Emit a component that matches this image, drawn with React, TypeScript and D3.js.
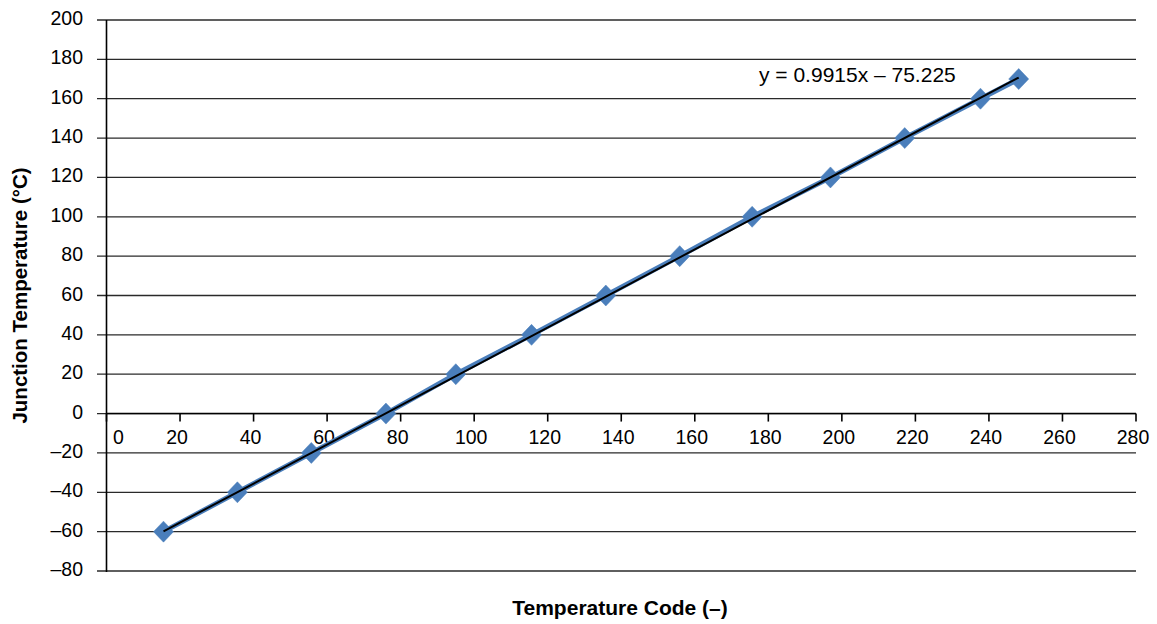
import React from "react";
import * as d3 from "d3";

const codes = [15.5, 35.6, 55.7, 76, 95, 115.6, 135.8, 155.9, 175.6, 196.9, 217.1, 237.7, 248.1];
const temps = [-60, -40, -20, 0, 20, 40, 60, 80, 100, 120, 140, 160, 170];
const xTicks = [0, 20, 40, 60, 80, 100, 120, 140, 160, 180, 200, 220, 240, 260, 280];
const yTicks = [-80, -60, -40, -20, 0, 20, 40, 60, 80, 100, 120, 140, 160, 180, 200];
const slope = 0.9915;
const intercept = -75.225;
const equation = "y = 0.9915x – 75.225";
const xTitle = "Temperature Code (–)";
const yTitle = "Junction Temperature (°C)";

const W = 1157;
const H = 624;
const M = { left: 106.5, right: 1136, top: 20, bottom: 571 };

export default function App() {
  const x = d3.scaleLinear().domain([0, 280]).range([M.left, M.right]);
  const y = d3.scaleLinear().domain([-80, 200]).range([M.bottom, M.top]);
  const pts = codes.map((c, i) => [c, temps[i]] as [number, number]);
  const line = d3.line<[number, number]>().x((d) => x(d[0])).y((d) => y(d[1]));
  const x0 = d3.min(codes)!;
  const x1 = d3.max(codes)!;
  const trend: [number, number][] = [
    [x0, slope * x0 + intercept],
    [x1, slope * x1 + intercept],
  ];
  const font = "'Liberation Sans', Arial, Helvetica, sans-serif";
  const diamond = (cx: number, cy: number) =>
    `M${cx},${cy - 10.5}L${cx + 10}L${cy}L${cx},${cy + 10.5}L${cx - 10},${cy}Z`;
  const dia = (cx: number, cy: number) =>
    `M${cx},${cy - 10.5}L${cx + 10},${cy}L${cx},${cy + 10.5}L${cx - 10},${cy}Z`;

  return (
    <svg
      width={W}
      height={H}
      style={{ position: "absolute", left: 0, top: 0, background: "#fff" }}
      fontFamily={font}
    >
      {yTicks.map((t) => (
        <line
          key={"g" + t}
          x1={M.left - 9.5}
          x2={M.right}
          y1={y(t)}
          y2={y(t)}
          stroke="#2a2a2a"
          strokeWidth={1.3}
        />
      ))}
      {yTicks.map((t) => (
        <text
          key={"yl" + t}
          x={83}
          y={y(t) + 5}
          textAnchor="end"
          fontSize={19.5}
          fill="#000"
        >
          {t < 0 ? "–" + Math.abs(t) : t}
        </text>
      ))}
      <line x1={M.left} x2={M.left} y1={M.top} y2={M.bottom + 1} stroke="#000" strokeWidth={1.6} />
      <line x1={M.left} x2={M.right} y1={y(0)} y2={y(0)} stroke="#000" strokeWidth={1.6} />
      {xTicks.map((t) => (
        <line
          key={"xt" + t}
          x1={x(t)}
          x2={x(t)}
          y1={y(0)}
          y2={y(0) + 8}
          stroke="#000"
          strokeWidth={1.6}
        />
      ))}
      {xTicks.map((t) => (
        <text
          key={"xl" + t}
          x={t === 0 ? x(t) + 12 : x(t) - 3}
          y={y(0) + 30}
          textAnchor="middle"
          fontSize={19.5}
          fill="#000"
        >
          {t}
        </text>
      ))}
      <path d={line(pts)!} fill="none" stroke="#4a7ebb" strokeWidth={5} strokeLinejoin="round" />
      {pts.map((p, i) => (
        <path key={"m" + i} d={dia(x(p[0]), y(p[1]))} fill="#4a7ebb" stroke="#4a7ebb" strokeWidth={0.5} />
      ))}
      <path d={line(trend)!} fill="none" stroke="#000" strokeWidth={2} />
      <text x={759} y={82} fontSize={21} fill="#000">
        {equation}
      </text>
      <text x={620} y={615} textAnchor="middle" fontSize={21} fontWeight="bold" fill="#000">
        {xTitle}
      </text>
      <text
        transform={`translate(27,${(M.top + M.bottom) / 2}) rotate(-90)`}
        textAnchor="middle"
        fontSize={20.5}
        fontWeight="bold"
        fill="#000"
      >
        {yTitle}
      </text>
    </svg>
  );
}
